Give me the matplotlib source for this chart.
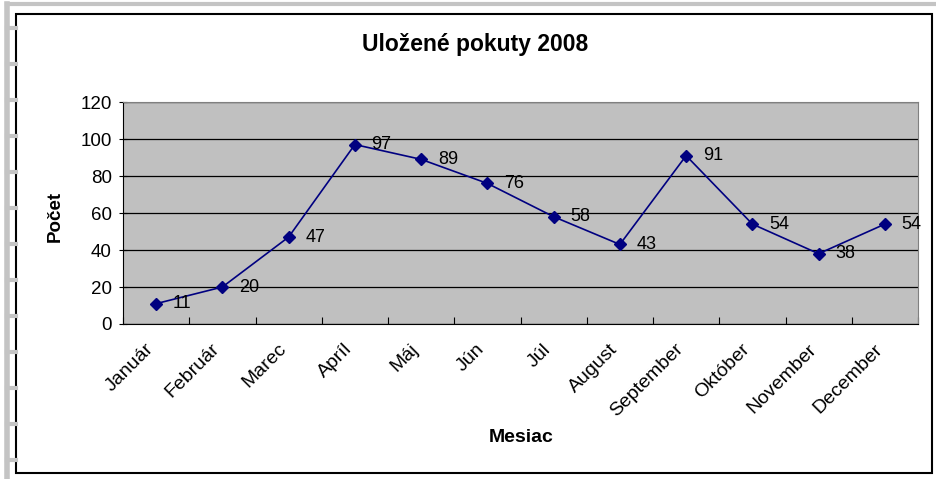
import matplotlib.pyplot as plt
import matplotlib.transforms as mtransforms
from matplotlib.patches import Rectangle
from matplotlib.lines import Line2D

plt.rcParams['font.family'] = ['Liberation Sans', 'DejaVu Sans']

# mesiace a pocty pokut
months = ['Január', 'Február', 'Marec', 'Apríl', 'Máj', 'Jún',
          'Júl', 'August', 'September', 'Október', 'November', 'December']
counts = [11, 20, 47, 97, 89, 76, 58, 43, 91, 54, 38, 54]
y_ticks = [0, 20, 40, 60, 80, 100, 120]

W, H = 936, 479
fig = plt.figure(figsize=(W / 100, H / 100), dpi=100)

# sive okraje harku a cierny ramcek grafu (ako v Exceli)
gray = '#c4c4c4'
fig.add_artist(Line2D([7 / W, 7 / W], [0, 1 - 4 / H], color=gray, lw=4))
fig.add_artist(Line2D([7 / W, 1], [1 - 4 / H, 1 - 4 / H], color=gray, lw=3))
for yy in range(28, 470, 36):
    fig.add_artist(Line2D([7 / W, 16 / W], [1 - yy / H, 1 - yy / H], color=gray, lw=3))
fig.patches.append(Rectangle((16 / W, 6 / H), 916 / W, 459 / H, transform=fig.transFigure,
                             fill=False, edgecolor='black', lw=1.5))

ax = fig.add_axes([123 / W, 1 - 324 / H, 795 / W, 222 / H])
ax.set_facecolor('#c0c0c0')

x = list(range(len(months)))
ax.plot(x, counts, color='#000080', lw=1.2, marker='D', markersize=6.5,
        markerfacecolor='#000080', markeredgecolor='#000080', zorder=3)
for xi, v in zip(x, counts):
    ax.annotate(str(v), (xi, v), xytext=(12, 0), textcoords='offset points',
                va='center', ha='left', fontsize=13)

ax.set_xlim(-0.5, len(months) - 0.5)
ax.set_ylim(0, 120)
ax.set_yticks(y_ticks)
ax.yaxis.grid(True, color='black', lw=0.9)
ax.set_axisbelow(True)

# ticky medzi kategoriami
ax.set_xticks([i + 0.5 for i in range(-1, len(months))], minor=False)
ax.set_xticklabels([])
ax.set_xticks(x, minor=True)
ax.set_xticklabels(months, minor=True, rotation=45, ha='right', rotation_mode='anchor', fontsize=14)
ax.tick_params(axis='x', which='minor', length=0, pad=12)
ax.tick_params(axis='x', which='major', length=5, direction='in', color='black')
ax.tick_params(axis='y', length=6, direction='inout', labelsize=13.5, pad=5)
shift = mtransforms.ScaledTranslation(-8 / 72, 0, fig.dpi_scale_trans)
for lab in ax.get_xticklabels(minor=True):
    lab.set_transform(lab.get_transform() + shift)

for s in ['top', 'right']:
    ax.spines[s].set_color('#808080')
ax.spines['left'].set_color('black')
ax.spines['bottom'].set_color('black')

fig.text(475 / W, 1 - 44 / H, 'Uložené pokuty 2008', ha='center', va='center',
         fontsize=16.5, fontweight='bold')
fig.text(55 / W, 1 - 216 / H, 'Počet', rotation=90, ha='center', va='center',
         fontsize=13.5, fontweight='bold')
fig.text(521 / W, 1 - 438 / H, 'Mesiac', ha='center', va='center',
         fontsize=14, fontweight='bold')

fig.savefig('out.png', dpi=100)
